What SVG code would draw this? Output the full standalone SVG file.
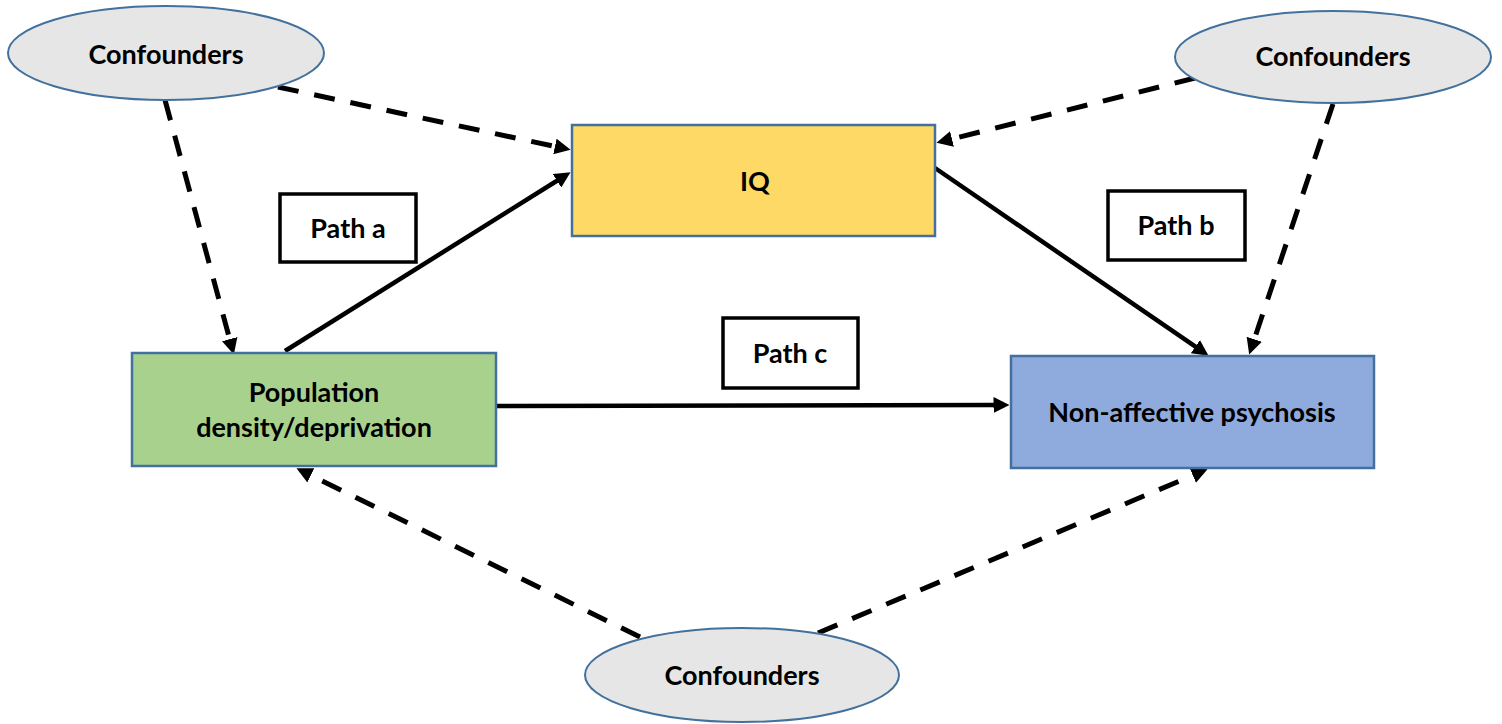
<svg xmlns="http://www.w3.org/2000/svg" width="1502" height="724" viewBox="0 0 1502 724">
<style>
.ell{fill:#e7e6e6;stroke:#41719c;stroke-width:2}
.box{stroke:#41719c;stroke-width:2.5}
.lab{fill:#fff;stroke:#000;stroke-width:3.5}
.t{font-family:Lato,"Open Sans","Liberation Sans",sans-serif;font-weight:bold;font-size:27px;fill:#000;text-anchor:middle}
.dash{stroke:#000;stroke-width:5;fill:none;stroke-dasharray:21 16;marker-end:url(#ah)}
.solid{stroke:#000;stroke-width:4.5;fill:none;marker-end:url(#ah)}
</style>
<defs>
<marker id="ah" viewBox="0 0 16 16" refX="0.5" refY="8" markerWidth="16" markerHeight="16" markerUnits="userSpaceOnUse" orient="auto">
<path d="M0,0 L16,8 L0,16 z" fill="#000"/>
</marker>
</defs>
<rect width="1502" height="724" fill="#fff"/>
<g id="connectors">
<line class="dash" x1="165" y1="100" x2="229.8" y2="339.6"/>
<line class="dash" x1="278" y1="87" x2="555.4" y2="146.6"/>
<line class="dash" x1="1195" y1="78" x2="951.5" y2="139.1"/>
<line class="dash" x1="1333" y1="104" x2="1254.1" y2="339.8"/>
<line class="dash" x1="640" y1="637" x2="310.4" y2="475.1"/>
<line class="dash" x1="818" y1="633" x2="1193.3" y2="475.2"/>
<line class="solid" x1="285" y1="351" x2="557.4" y2="180.5"/>
<line class="solid" x1="935" y1="168" x2="1195.8" y2="346.9"/>
<line class="solid" x1="497" y1="406" x2="994" y2="405"/>
</g>
<g id="conf_tl">
<ellipse class="ell" cx="166" cy="53" rx="158" ry="47"/>
<text class="t" x="166" y="64">Confounders</text>
</g>
<g id="conf_tr">
<ellipse class="ell" cx="1333" cy="57" rx="158" ry="46"/>
<text class="t" x="1333" y="66">Confounders</text>
</g>
<g id="conf_bottom">
<ellipse class="ell" cx="742" cy="675" rx="157" ry="47"/>
<text class="t" x="742" y="685">Confounders</text>
</g>
<g id="iq">
<rect class="box" x="572" y="125" width="363" height="111" fill="#ffd966"/>
<text class="t" x="755" y="191">IQ</text>
</g>
<g id="population">
<rect class="box" x="132" y="353" width="364" height="113" fill="#a9d18e"/>
<text class="t" x="314" y="402">Population</text>
<text class="t" x="314" y="437">density/deprivation</text>
</g>
<g id="psychosis">
<rect class="box" x="1011" y="356" width="363" height="112" fill="#8faadc"/>
<text class="t" x="1192" y="422">Non-affective psychosis</text>
</g>
<g id="path_a">
<rect class="lab" x="280" y="194" width="136" height="68"/>
<text class="t" x="348" y="238">Path a</text>
</g>
<g id="path_b">
<rect class="lab" x="1108" y="191" width="137" height="69"/>
<text class="t" x="1176" y="235">Path b</text>
</g>
<g id="path_c">
<rect class="lab" x="723" y="318" width="135" height="70"/>
<text class="t" x="790" y="363">Path c</text>
</g>
</svg>
